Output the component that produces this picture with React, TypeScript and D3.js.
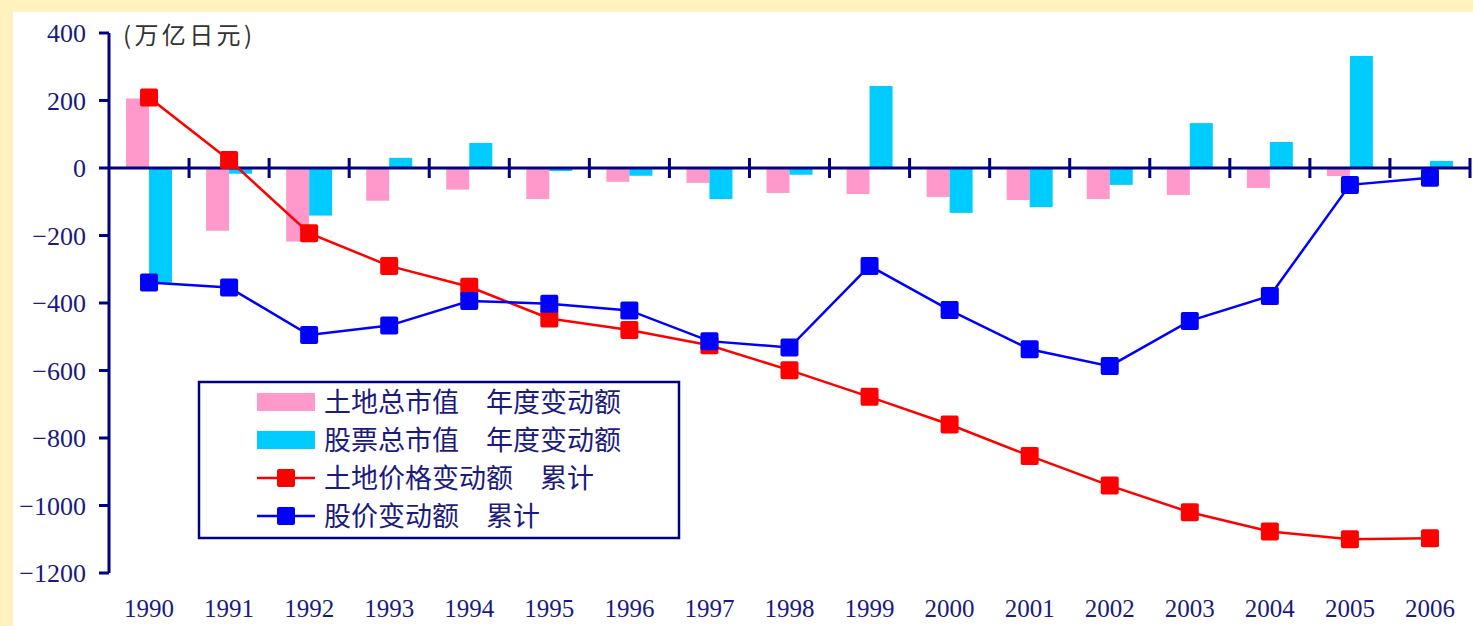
import React from "react";
import * as d3 from "d3";

const years = ["1990","1991","1992","1993","1994","1995","1996","1997","1998","1999","2000","2001","2002","2003","2004","2005","2006"];
const landAnnual = [206,-186,-218,-97,-64,-92,-41,-44,-74,-77,-86,-95,-92,-80,-59,-24,0];
const stockAnnual = [-340,-17,-141,30,74,-9,-23,-92,-20,243,-133,-116,-50,133,77,332,21];
const landCum = [209,24,-193,-290,-352,-446,-480,-525,-599,-678,-760,-853,-941,-1020,-1077,-1100,-1097];
const stockCum = [-339,-354,-495,-467,-394,-402,-422,-513,-532,-290,-421,-537,-587,-453,-379,-50,-29];
const yTicks = [400,200,0,-200,-400,-600,-800,-1000,-1200];
const unitLabel = "(万亿日元)";
const legendItems = [
  { label: "土地总市值\u3000年度变动额", type: "bar", color: "#FF99CC" },
  { label: "股票总市值\u3000年度变动额", type: "bar", color: "#00CCFF" },
  { label: "土地价格变动额\u3000累计", type: "line", color: "#FF0000" },
  { label: "股价变动额\u3000累计", type: "line", color: "#0000FF" },
];

const W = 1473, H = 626;
const NAVY = "#000080";
const TEXT = "#1a1a80";

export default function App() {
  const x = d3.scaleBand<string>().domain(years).range([109, 1470]).padding(0);
  const y = d3.scaleLinear().domain([-1200, 400]).range([573, 33]);
  const cx = (yr: string) => (x(yr) as number) + x.bandwidth() / 2;
  const barW = 23;
  const line = d3.line<number>().x((_, i) => cx(years[i])).y((v) => y(v));
  const mk = 18;
  const serif = "'Liberation Serif', 'DejaVu Serif', serif";
  const cjk = "'Noto Sans CJK SC', 'Noto Sans', sans-serif";

  const series = [
    { data: landCum, color: "#FF0000" },
    { data: stockCum, color: "#0000FF" },
  ];

  return (
    <svg width={W} height={H} style={{ position: "absolute", left: 0, top: 0 }}>
      <rect x={0} y={0} width={W} height={H} fill="#FFF2BF" />
      <rect x={13} y={12} width={W - 13} height={H - 12} fill="#FFFFFF" />

      {/* bars */}
      {years.map((yr, i) => (
        <g key={"b" + yr}>
          <rect x={cx(yr) - barW} width={barW} y={Math.min(y(0), y(landAnnual[i]))}
            height={Math.abs(y(landAnnual[i]) - y(0))} fill="#FF99CC" />
          <rect x={cx(yr)} width={barW} y={Math.min(y(0), y(stockAnnual[i]))}
            height={Math.abs(y(stockAnnual[i]) - y(0))} fill="#00CCFF" />
        </g>
      ))}

      {/* y axis */}
      <line x1={109} x2={109} y1={y(400)} y2={y(-1200)} stroke={NAVY} strokeWidth={3} />
      {yTicks.map((t) => (
        <g key={"yt" + t}>
          <line x1={99} x2={109} y1={y(t)} y2={y(t)} stroke={NAVY} strokeWidth={3} />
          <text x={86} y={y(t)} dy="0.35em" textAnchor="end" fontFamily={serif} fontSize={26} fill={TEXT}>
            {t < 0 ? "\u2212" + Math.abs(t) : String(t)}
          </text>
        </g>
      ))}

      {/* x axis */}
      <line x1={109} x2={1470} y1={y(0)} y2={y(0)} stroke={NAVY} strokeWidth={3} />
      {years.map((yr) => (
        <line key={"xt" + yr} x1={(x(yr) as number) + x.bandwidth()} x2={(x(yr) as number) + x.bandwidth()}
          y1={y(0) - 10} y2={y(0) + 10} stroke={NAVY} strokeWidth={3} />
      ))}
      {years.map((yr) => (
        <text key={"xl" + yr} x={cx(yr)} y={617} textAnchor="middle" fontFamily={serif} fontSize={25} fill={TEXT}>
          {yr}
        </text>
      ))}

      <text x={123} y={44} fontFamily={cjk} fontSize={24} fill="#333333" textLength={129} lengthAdjust="spacing">
        {unitLabel}
      </text>

      {/* lines */}
      {series.map((s, si) => (
        <g key={"s" + si}>
          <path d={line(s.data) || ""} fill="none" stroke={s.color} strokeWidth={2.5} />
          {s.data.map((v, i) => (
            <rect key={i} x={cx(years[i]) - mk / 2} y={y(v) - mk / 2} width={mk} height={mk} rx={2} fill={s.color} />
          ))}
        </g>
      ))}

      {/* legend */}
      <rect x={199} y={382} width={480} height={156} fill="#FFFFFF" stroke={NAVY} strokeWidth={2.5} />
      {legendItems.map((it, i) => {
        const ry = 402 + i * 38;
        return (
          <g key={"lg" + i}>
            {it.type === "bar" ? (
              <rect x={257} y={ry - 9} width={58} height={18} fill={it.color} />
            ) : (
              <g>
                <line x1={257} x2={315} y1={ry} y2={ry} stroke={it.color} strokeWidth={2.5} />
                <rect x={286 - mk / 2} y={ry - mk / 2} width={mk} height={mk} rx={2} fill={it.color} />
              </g>
            )}
            <text x={324} y={ry} dy="0.36em" fontFamily={cjk} fontSize={27} fill={TEXT}>
              {it.label}
            </text>
          </g>
        );
      })}
    </svg>
  );
}
